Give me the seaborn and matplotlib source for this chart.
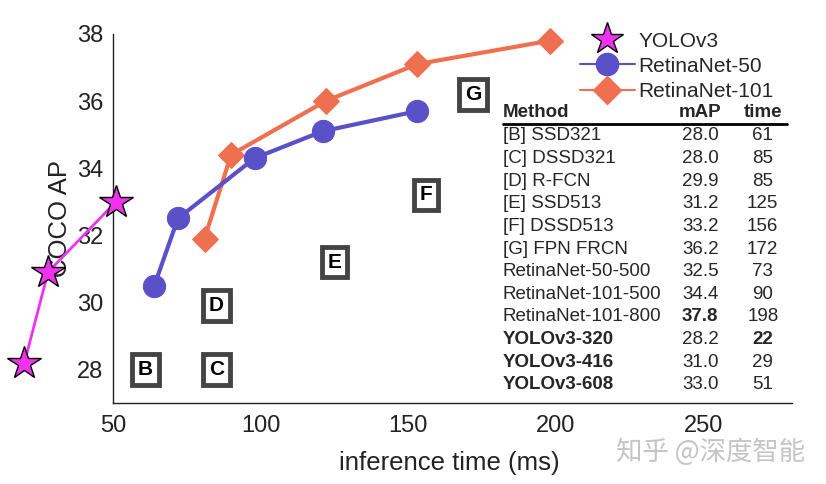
import numpy as np
import matplotlib
matplotlib.use("Agg")
import matplotlib.pyplot as plt
from matplotlib.lines import Line2D
import seaborn as sns

# ---- data ----
yolo_time = [20, 28, 51]
yolo_ap = [28.2, 30.9, 33.0]

r50_time = [64, 72, 98, 121, 153]
r50_ap = [30.5, 32.5, 34.3, 35.1, 35.7]

r101_time = [81, 90, 122, 153, 198]
r101_ap = [31.9, 34.4, 36.0, 37.1, 37.8]

# boxed letters (other detectors)
box_letters = ["B", "C", "D", "E", "F", "G"]
box_time = [61, 85, 85, 125, 156, 172]
box_ap = [28.0, 28.0, 29.9, 31.2, 33.2, 36.2]

# table
table_methods = ["[B] SSD321", "[C] DSSD321", "[D] R-FCN", "[E] SSD513",
                 "[F] DSSD513", "[G] FPN FRCN", "RetinaNet-50-500",
                 "RetinaNet-101-500", "RetinaNet-101-800",
                 "YOLOv3-320", "YOLOv3-416", "YOLOv3-608"]
table_map = ["28.0", "28.0", "29.9", "31.2", "33.2", "36.2",
             "32.5", "34.4", "37.8", "28.2", "31.0", "33.0"]
table_time = ["61", "85", "85", "125", "156", "172",
              "73", "90", "198", "22", "29", "51"]
bold_method = [False] * 9 + [True] * 3
bold_map = [False] * 8 + [True] + [False] * 3
bold_time = [False] * 9 + [True] + [False] * 2

c_yolo = "#f032f0"
c_r50 = "#5a50c8"
c_r101 = "#ee7050"

sns.set_style("white")
plt.rcParams["font.family"] = ["Liberation Sans", "DejaVu Sans"]

fig = plt.figure(figsize=(8.26, 4.84), dpi=100)
ax = fig.add_axes([0.1368, 0.1674, 0.822, 0.7624])

sns.lineplot(x=r101_time, y=r101_ap, ax=ax, color=c_r101, lw=3,
             marker="D", markersize=13, markeredgecolor=c_r101, sort=False)
sns.lineplot(x=r50_time, y=r50_ap, ax=ax, color=c_r50, lw=3,
             marker="o", markersize=16, markeredgecolor=c_r50, sort=False)
sns.lineplot(x=yolo_time, y=yolo_ap, ax=ax, color=c_yolo, lw=2,
             marker="*", markersize=25, markerfacecolor=c_yolo,
             markeredgecolor="black", markeredgewidth=1, sort=False,
             zorder=5)
for ln in ax.lines:
    ln.set_clip_on(False)

for letter, t, ap in zip(box_letters, box_time, box_ap):
    ax.text(t, ap, letter, ha="center", va="center", fontsize=15,
            fontweight="bold", color="black",
            bbox=dict(boxstyle="square,pad=0.28", fc="white",
                      ec="#444444", lw=3.5))

ax.set_xlim(50, 280)
ax.set_ylim(27, 38)
ax.set_xticks([50, 100, 150, 200, 250])
ax.set_yticks([28, 30, 32, 34, 36, 38])
ax.tick_params(direction="in", length=5, labelsize=17, colors="#222222")
ax.tick_params(axis="x", pad=9)
ax.tick_params(axis="y", pad=7)
for side in ["top", "right"]:
    ax.spines[side].set_visible(False)
for side in ["left", "bottom"]:
    ax.spines[side].set_color("#222222")
    ax.spines[side].set_linewidth(1)

ax.set_xlabel("inference time (ms)", fontsize=18.5, color="#222222")
ax.set_ylabel("COCO AP", fontsize=18.5, color="#222222")
ax.xaxis.set_label_coords(0.496, -0.13)
ax.yaxis.set_label_coords(-0.06, 0.5)

# table
fs = 13.5
tx_m, tx_a, tx_t = 0.574, 0.865, 0.957
ax.text(tx_m, 0.786, "Method", transform=ax.transAxes, fontsize=fs,
        fontweight="bold", va="center", ha="left")
ax.text(tx_a, 0.786, "mAP", transform=ax.transAxes, fontsize=fs,
        fontweight="bold", va="center", ha="center")
ax.text(tx_t, 0.786, "time", transform=ax.transAxes, fontsize=fs,
        fontweight="bold", va="center", ha="center")
ax.plot([0.574, 0.993], [0.757, 0.757], transform=ax.transAxes,
        color="black", lw=2, clip_on=False)
row_y = 0.7236
for i in range(len(table_methods)):
    y = row_y - i * 0.0613
    ax.text(tx_m, y, table_methods[i], transform=ax.transAxes, fontsize=fs,
            fontweight="bold" if bold_method[i] else "normal",
            va="center", ha="left")
    ax.text(tx_a, y, table_map[i], transform=ax.transAxes, fontsize=fs,
            fontweight="bold" if bold_map[i] else "normal",
            va="center", ha="center")
    ax.text(tx_t, y, table_time[i], transform=ax.transAxes, fontsize=fs,
            fontweight="bold" if bold_time[i] else "normal",
            va="center", ha="center")

handles = [
    Line2D([], [], color=c_yolo, lw=0, marker="*", markersize=24,
           markerfacecolor=c_yolo, markeredgecolor="black"),
    Line2D([], [], color=c_r50, lw=1.5, marker="o", markersize=16),
    Line2D([], [], color=c_r101, lw=1.5, marker="D", markersize=14),
]
fig.legend(handles, ["YOLOv3", "RetinaNet-50", "RetinaNet-101"],
           loc="upper left", bbox_to_anchor=(0.685, 0.965), frameon=False,
           fontsize=15, handlelength=2.6, handletextpad=0.2,
           labelspacing=0.3, borderpad=0.2)

fig.text(0.975, 0.066, "知乎 @深度智能", ha="right", va="center",
         fontsize=19, color="#c4c4c4",
         family=["Noto Sans CJK SC", "DejaVu Sans"])

fig.savefig("out.png", dpi=100)
